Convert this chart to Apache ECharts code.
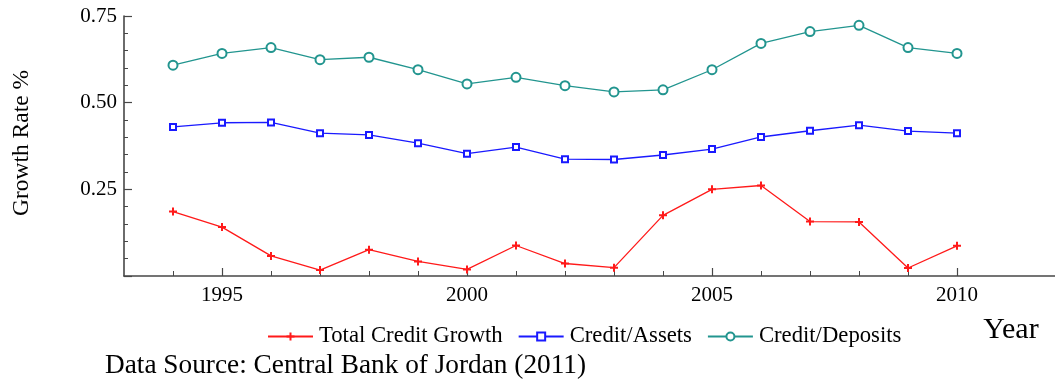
<!DOCTYPE html>
<html>
<head>
<meta charset="utf-8">
<title>Credit Growth Rates, Jordan 1994-2010</title>
<script src="https://cdn.jsdelivr.net/npm/echarts@6/dist/echarts.min.js"></script>
<style>
  html, body { margin: 0; padding: 0; background: #ffffff; }
  #chart { width: 1055px; height: 385px; }
</style>
</head>
<body>
<div id="chart"></div>
<script>
// Years on the horizontal axis
const years = [1994, 1995, 1996, 1997, 1998, 1999, 2000, 2001, 2002,
               2003, 2004, 2005, 2006, 2007, 2008, 2009, 2010];

// Series values (growth rates)
const totalCreditGrowth = [0.186, 0.141, 0.058, 0.017, 0.076, 0.042, 0.019, 0.088, 0.036,
                           0.024, 0.175, 0.250, 0.261, 0.157, 0.156, 0.023, 0.087];
const creditAssets      = [0.430, 0.442, 0.443, 0.412, 0.407, 0.383, 0.353, 0.372, 0.337,
                           0.336, 0.349, 0.366, 0.401, 0.419, 0.435, 0.418, 0.412];
const creditDeposits    = [0.608, 0.642, 0.659, 0.624, 0.631, 0.595, 0.554, 0.573, 0.549,
                           0.531, 0.537, 0.595, 0.671, 0.705, 0.723, 0.659, 0.642];

// Tick positions and labels
const xMajorTicks = [1995, 2000, 2005, 2010];
const xMinorTicks = years;
const yTickLabels = [0.25, 0.50, 0.75];

// Text
const seriesNames = ['Total Credit Growth', 'Credit/Assets', 'Credit/Deposits'];
const yAxisTitle = 'Growth Rate %';
const xAxisTitle = 'Year';
const sourceNote = 'Data Source: Central Bank of Jordan (2011)';

const serif = "'Liberation Serif', 'Times New Roman', 'DejaVu Serif', serif";
const axisColor = '#474747';
const colors = ['#ff1a1a', '#1a1aff', '#22958f'];

const pairs = vals => years.map((y, i) => [y, vals[i]]);
const isLabelled = (list, v) => list.some(t => Math.abs(t - v) < 1e-9);

const chart = echarts.init(document.getElementById('chart'), null, { renderer: 'canvas' });

const option = {
  animation: false,
  backgroundColor: '#ffffff',
  grid: { left: 124, top: 16, width: 937, height: 260 },
  xAxis: [
    {
      // short tick at every year
      type: 'value', min: 1993, max: 2012,
      axisLine: { show: true, lineStyle: { color: axisColor, width: 1.6 } },
      axisTick: { show: true, inside: true, length: 5, customValues: xMinorTicks,
                  lineStyle: { color: axisColor, width: 1 } },
      axisLabel: { show: true, customValues: xMajorTicks, margin: 9,
                   fontFamily: serif, fontSize: 21, color: '#000',
                   formatter: v => String(v) },
      splitLine: { show: false }
    },
    {
      // longer ticks at the labelled years
      type: 'value', min: 1993, max: 2012, position: 'bottom',
      axisLine: { show: false },
      axisTick: { show: true, inside: true, length: 8, customValues: xMajorTicks,
                  lineStyle: { color: axisColor, width: 1.2 } },
      axisLabel: { show: false },
      splitLine: { show: false }
    }
  ],
  yAxis: {
    type: 'value', min: 0, max: 0.75, interval: 0.25,
    axisLine: { show: true, lineStyle: { color: axisColor, width: 1.6 } },
    axisTick: { show: true, inside: true, length: 8, lineStyle: { color: axisColor, width: 1.2 } },
    minorTick: { show: true, splitNumber: 5, length: 4, lineStyle: { color: axisColor, width: 1 } },
    axisLabel: {
      margin: 7, fontFamily: serif, fontSize: 21, color: '#000',
      formatter: v => (isLabelled(yTickLabels, v) ? v.toFixed(2) : '')
    },
    splitLine: { show: false }
  },
  legend: {
    left: 267, top: 325, padding: 0,
    itemWidth: 45, itemHeight: 10, itemGap: 15,
    textStyle: { fontFamily: serif, fontSize: 22.7, color: '#000', padding: [0, 0, 0, 1] },
    data: seriesNames
  },
  graphic: [
    {
      type: 'text', x: 22, y: 143, rotation: Math.PI / 2,
      style: { text: yAxisTitle, font: "23.5px 'Liberation Serif', 'Times New Roman', serif",
               fill: '#000', align: 'center', verticalAlign: 'middle' }
    },
    {
      type: 'text', x: 1011, y: 330,
      style: { text: xAxisTitle, font: "30px 'Liberation Serif', 'Times New Roman', serif",
               fill: '#000', align: 'center', verticalAlign: 'middle' }
    },
    {
      type: 'text', x: 105, y: 366,
      style: { text: sourceNote, font: "27.3px 'Liberation Serif', 'Times New Roman', serif",
               fill: '#000', align: 'left', verticalAlign: 'middle' }
    }
  ],
  series: [
    {
      name: seriesNames[0], type: 'line', data: pairs(totalCreditGrowth),
      symbol: 'path://M3,0H5V3H8V5H5V8H3V5H0V3H3Z', symbolSize: 8,
      itemStyle: { color: colors[0] },
      lineStyle: { color: colors[0], width: 1.3 }
    },
    {
      name: seriesNames[1], type: 'line', data: pairs(creditAssets),
      symbol: 'emptyRect', symbolSize: 6,
      itemStyle: { color: colors[1], borderWidth: 1.4 },
      lineStyle: { color: colors[1], width: 1.3 }
    },
    {
      name: seriesNames[2], type: 'line', data: pairs(creditDeposits),
      symbol: 'emptyCircle', symbolSize: 9,
      itemStyle: { color: colors[2], borderWidth: 1.3 },
      lineStyle: { color: colors[2], width: 1.3 }
    }
  ]
};

chart.setOption(option);
</script>
</body>
</html>
